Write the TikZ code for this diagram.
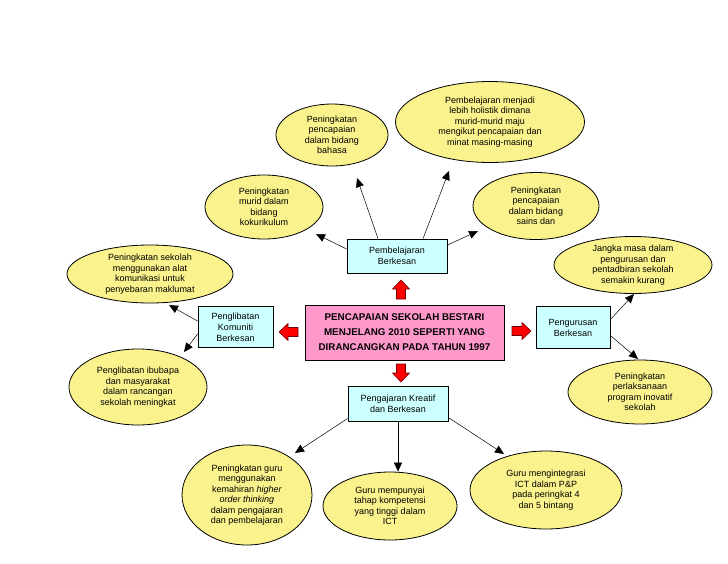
\documentclass[tikz,border=0pt]{standalone}
\usepackage{fontspec}
\setmainfont{Liberation Sans}
\usetikzlibrary{shapes.geometric,arrows.meta,calc}
\definecolor{ellfill}{RGB}{250,242,140}
\definecolor{boxfill}{RGB}{204,255,255}
\definecolor{pinkfill}{RGB}{255,153,204}
\begin{document}
\begin{tikzpicture}[x=1pt,y=-1pt,
  ell/.style={ellipse, draw=black, line width=0.8pt, fill=ellfill, inner sep=-6pt, align=center,
    font=\fontsize{9}{10.5}\selectfont},
  cbox/.style={rectangle, draw=black, line width=0.8pt, fill=boxfill, align=center, inner sep=0pt,
    font=\fontsize{9}{11}\selectfont},
  mainbox/.style={rectangle, draw=black, line width=0.8pt, fill=pinkfill, align=center, inner sep=0pt,
    font=\fontsize{9.8}{15}\selectfont\bfseries},
  arr/.style={-{Triangle[length=9pt,width=8pt]}, line width=0.5pt},
  redblk/.style={draw=red!45!black, line width=0.6pt, fill=red, line join=miter}]
\fill[white] (0,0) rectangle (728,563);
\useasboundingbox (0,0) rectangle (728,563);

% central box and branches
\node[mainbox, minimum width=199pt, minimum height=55pt] (main) at (404.5,332.5)
  {PENCAPAIAN SEKOLAH BESTARI\\MENJELANG 2010 SEPERTI YANG\\DIRANCANGKAN PADA TAHUN 1997};
\node[cbox, minimum width=100pt, minimum height=34pt] (pb) at (397,256) {Pembelajaran\\Berkesan};
\node[cbox, minimum width=75pt, minimum height=41pt] (pk) at (235.5,327) {Penglibatan\\Komuniti\\Berkesan};
\node[cbox, minimum width=74pt, minimum height=42pt] (pg) at (573,327.5) {Pengurusan\\Berkesan};
\node[cbox, minimum width=100pt, minimum height=35pt] (pj) at (398,403.5) {Pengajaran Kreatif\\dan Berkesan};

% red block arrows
\filldraw[redblk] (396.5,299) -- (396.5,289) -- (392.5,289) -- (401,280) -- (409.5,289) -- (405.5,289) -- (405.5,299) -- cycle;
\filldraw[redblk] (396.5,364) -- (405.5,364) -- (405.5,373) -- (409.5,373) -- (401,382) -- (392.5,373) -- (396.5,373) -- cycle;
\filldraw[redblk] (298,327.5) -- (288,327.5) -- (288,323.5) -- (279,332) -- (288,340.5) -- (288,336.5) -- (298,336.5) -- cycle;
\filldraw[redblk] (512,326.5) -- (522,326.5) -- (522,322.5) -- (531,331) -- (522,339.5) -- (522,335.5) -- (512,335.5) -- cycle;

% ellipses
\node[ell, minimum width=112pt, minimum height=62pt] (e1) at (332,135)
  {Peningkatan\\pencapaian\\dalam  bidang\\bahasa};
\node[ell, minimum width=189pt, minimum height=81pt] (e2) at (490,122)
  {Pembelajaran menjadi\\lebih holistik dimana\\murid-murid maju\\mengikut pencapaian dan\\minat masing-masing};
\node[ell, minimum width=118pt, minimum height=64pt] (e3) at (264,207)
  {Peningkatan\\murid dalam\\bidang\\kokurikulum};
\node[ell, minimum width=126pt, minimum height=67pt] (e4) at (536,206)
  {Peningkatan\\pencapaian\\dalam bidang\\sains dan};
\node[ell, minimum width=166pt, minimum height=58pt] (e5) at (150,274)
  {Peningkatan sekolah\\menggunakan alat\\komunikasi untuk\\penyebaran maklumat};
\node[ell, minimum width=158pt, minimum height=57pt] (e6) at (633,265)
  {Jangka masa dalam\\pengurusan dan\\pentadbiran sekolah\\semakin kurang};
\node[ell, minimum width=138pt, minimum height=76pt] (e7) at (138,387)
  {Penglibatan ibubapa\\dan masyarakat\\dalam rancangan\\sekolah meningkat};
\node[ell, minimum width=144pt, minimum height=64pt] (e8) at (640,392)
  {Peningkatan\\perlaksanaan\\program inovatif\\sekolah};
\node[ell, minimum width=130pt, minimum height=100pt] (e9) at (247,495)
  {Peningkatan guru\\menggunakan\\kemahiran \textit{higher}\\\textit{order thinking}\\dalam pengajaran\\dan pembelajaran};
\node[ell, minimum width=134pt, minimum height=68pt] (e10) at (390,506)
  {Guru mempunyai\\tahap kompetensi\\yang tinggi dalam\\ICT};
\node[ell, minimum width=152pt, minimum height=78pt] (e11) at (546,490)
  {Guru mengintegrasi\\ICT dalam P\&P\\pada peringkat 4\\dan 5 bintang};

% connectors
\draw[arr] ($(pb.north)+(-19,0)$) -- ($(e1.center)+(25,43)$);
\draw[arr] ($(pb.north)+(26,0)$) -- ($(e2.center)+(-41,49)$);
\draw[arr] ($(pb.west)+(0,-7)$) -- ($(e3.center)+(52,27)$);
\draw[arr] ($(pb.east)+(0,-11)$) -- ($(e4.center)+(-58,25)$);
\draw[arr] ($(pk.west)+(0,-6)$) -- ($(e5.center)+(19,31)$);
\draw[arr] ($(pk.west)+(0,7)$) -- ($(e7.center)+(46,-35)$);
\draw[arr] ($(pg.east)+(0,-8)$) -- ($(e6.center)+(1,29)$);
\draw[arr] ($(pg.east)+(0,8)$) -- ($(e8.center)+(-2,-33)$);
\draw[arr] ($(pj.west)+(0,15)$) -- ($(e9.center)+(48,-42)$);
\draw[arr] (pj.south) -- (pj.south |- e10.north);
\draw[arr] ($(pj.east)+(0,14)$) -- ($(e11.center)+(-42,-36)$);
\end{tikzpicture}
\end{document}
